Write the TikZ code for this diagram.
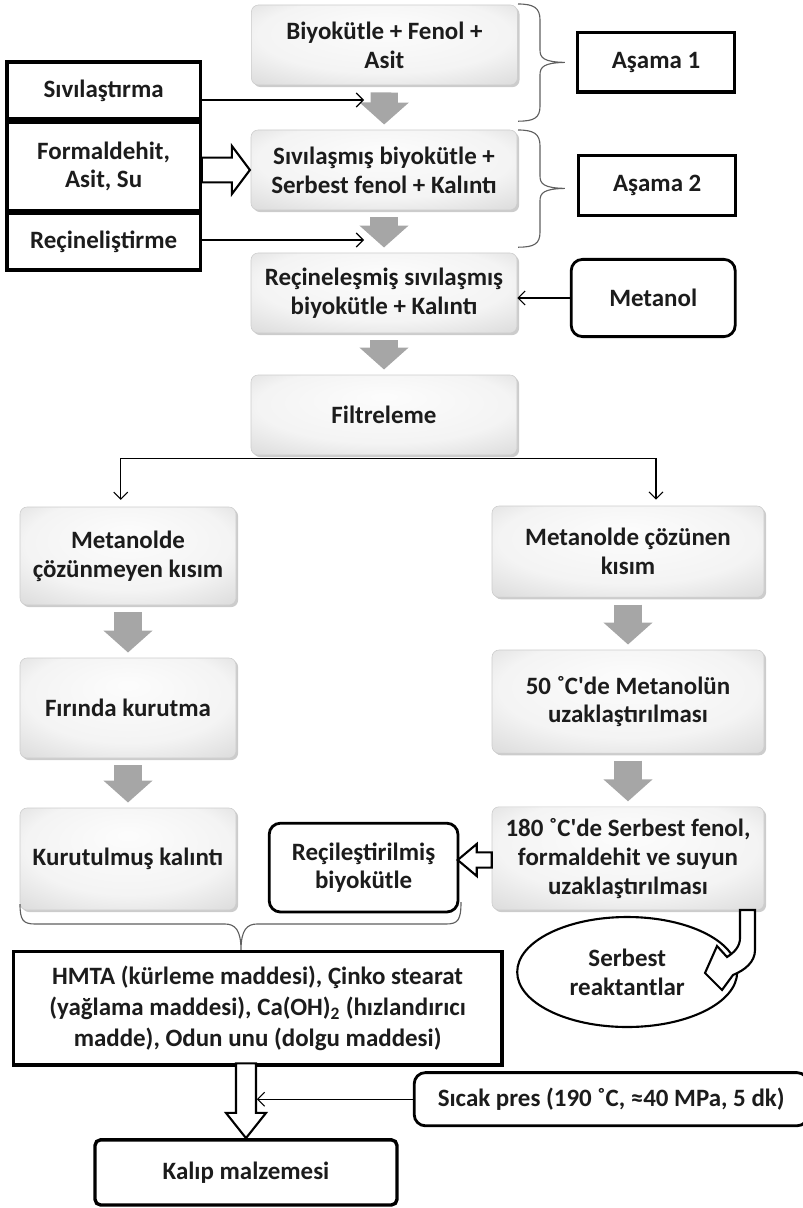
\documentclass[tikz,border=0pt]{standalone}
\usepackage{fontspec}
\setmainfont{Carlito}
\usetikzlibrary{arrows.meta, positioning, shadows, shapes.geometric}

\definecolor{flowgray}{RGB}{166,166,166}
\definecolor{bracegray}{RGB}{95,95,95}
\definecolor{inktext}{RGB}{28,28,28}

% soft glow for the process boxes, lighter towards the top
\pgfdeclareradialshading{boxglow}{\pgfpoint{0bp}{12bp}}{color(0bp)=(gray!2); color(24bp)=(gray!9); color(50bp)=(gray!45)}

\tikzset{
  stepbox/.style={rectangle, rounded corners=5pt, draw=gray!40, shading=boxglow,
    align=center, minimum width=6.65cm, minimum height=2cm,
    drop shadow={opacity=0.4, shadow xshift=1.5pt, shadow yshift=-1.5pt}},
  inbox/.style={rectangle, draw, line width=2.4pt, align=center, fill=white},
  roundbox/.style={inbox, rounded corners=8pt, line width=2pt},
  arrow/.style={-{Straight Barb[length=5pt, width=10pt]}, line width=0.8pt},
  flow/.style={line width=0.68cm, flowgray, -{Triangle[width=1.2cm, length=0.55cm]},
    shorten <=0.18cm, shorten >=0.13cm},
  hollow/.style={draw, line width=1.5pt, fill=white, line join=miter},
  stagebrace/.style={bracegray, line width=0.8pt},
}

\begin{document}
\begin{tikzpicture}[font=\fontsize{17.75}{20.5}\selectfont\bfseries, text=inktext]
  \useasboundingbox (0,0) rectangle (20.075,-30.2);

  %% upper chain
  \node[stepbox] (bio) at (9.61,-1.125) {Biyokütle + Fenol +\\Asit};
  \node[stepbox] (sivi) at (9.6,-4.25) {Sıvılaşmış biyokütle +\\Serbest fenol + Kalıntı};
  \node[stepbox] (recsivi) at (9.6,-7.325) {Reçineleşmiş sıvılaşmış\\biyokütle + Kalıntı};
  \node[stepbox] (filtre) at (9.6,-10.375) {Filtreleme};

  \draw[flow] (bio) -- (sivi);
  \draw[flow] (sivi) -- (recsivi);
  \draw[flow] (recsivi) -- (filtre);

  %% inputs on the left
  \node[inbox, minimum width=4.83cm, minimum height=1.42cm] (siv) at (2.59,-2.26) {Sıvılaştırma};
  \node[inbox, minimum width=4.83cm, minimum height=2.22cm] (form) at (2.59,-4.16) {Formaldehit,\\Asit, Su};
  \node[inbox, minimum width=4.83cm, minimum height=1.42cm] (recin) at (2.59,-6.04) {Reçineliştirme};

  \coordinate (in1) at (9.1,-2.5);
  \coordinate (in2) at (9.1,-6.0);
  \draw[arrow] (siv.east |- in1) -- (in1);
  \draw[arrow] (recin.east |- in2) -- (in2);
  \draw[hollow, shift={(form.east)}]
    (0,0.22) -- (0.75,0.22) -- (0.75,0.51) -- (1.2,-0.09) -- (0.75,-0.69)
    -- (0.75,-0.40) -- (0,-0.40) -- cycle;

  %% stages: brackets and labels
  \foreach \dy in {0,-3.15}
    \draw[stagebrace, shift={(0,\dy)}]
      (12.95,-0.1) .. controls (13.35,-0.1) and (13.5,-0.2) .. (13.5,-0.5) -- (13.5,-1.25)
      .. controls (13.5,-1.45) and (13.6,-1.55) .. (14.12,-1.56)
      .. controls (13.6,-1.57) and (13.5,-1.67) .. (13.5,-1.87) -- (13.5,-2.65)
      .. controls (13.5,-2.95) and (13.35,-3.03) .. (12.95,-3.03);
  \node[inbox, minimum width=3.93cm, minimum height=1.48cm] (asama1) at (16.4,-1.56) {Aşama 1};
  \node[inbox, minimum width=3.93cm, minimum height=1.5cm] (asama2) at (16.43,-4.64) {Aşama 2};

  \node[roundbox, minimum width=4.1cm, minimum height=1.93cm] (metanol) at (16.33,-7.45) {Metanol};
  \draw[arrow] (metanol.west) -- (recsivi.east |- metanol.west);

  %% split after filtering
  \node[stepbox, minimum width=5.4cm, minimum height=2.45cm] (cozmez) at (3.2,-13.9) {Metanolde\\çözünmeyen kısım};
  \node[stepbox, minimum width=6.8cm, minimum height=2.28cm] (cozen) at (15.7,-13.79) {Metanolde çözünen\\kısım};
  \draw[arrow] ([yshift=-2pt]filtre.south) -| ([xshift=-0.18cm, yshift=0.17cm]cozmez.north);
  \draw[arrow] ([yshift=-2pt]filtre.south) -| ([xshift=0.7cm, yshift=0.15cm]cozen.north);

  %% left column
  \node[stepbox, minimum width=5.4cm, minimum height=2.5cm] (firin) at (3.2,-17.7) {Fırında kurutma};
  \node[stepbox, minimum width=5.4cm, minimum height=2.55cm] (kuru) at (3.2,-21.475) {Kurutulmuş kalıntı};
  \draw[flow] (cozmez) -- (firin);
  \draw[flow] (firin) -- (kuru);

  %% right column
  \node[stepbox, minimum width=6.8cm, minimum height=2.58cm] (metuz) at (15.7,-17.54) {50 ˚C\textquotesingle de Metanolün\\uzaklaştırılması};
  \node[stepbox, minimum width=6.8cm, minimum height=2.58cm] (fenuz) at (15.7,-21.46) {180 ˚C\textquotesingle de Serbest fenol,\\formaldehit ve suyun\\uzaklaştırılması};
  \draw[flow] (cozen) -- (metuz);
  \draw[flow] (metuz) -- (fenuz);

  \node[roundbox, minimum width=4.72cm, minimum height=2.22cm] (recbio) at (9.09,-21.69) {Reçileştirilmiş\\biyokütle};
  \draw[hollow, shift={(fenuz.west)}]
    (0,0.15) -- (-0.375,0.15) -- (-0.375,0.36) -- (-0.85,-0.04) -- (-0.375,-0.44)
    -- (-0.375,-0.23) -- (0,-0.23) -- cycle;

  \node[ellipse, draw, line width=1.5pt, minimum width=5.5cm, minimum height=2.75cm,
        align=center] (serbest) at (15.68,-24.3) {Serbest\\reaktantlar};
  \draw[hollow]
    (18.5,-22.75) -- (18.875,-22.75) -- (18.875,-23.75)
    .. controls (18.875,-24.05) and (18.625,-24.25) .. (18.325,-24.375)
    -- (18.05,-24.75) -- (17.625,-24.325) -- (17.925,-23.65) -- (18.175,-23.925)
    .. controls (18.375,-23.8) and (18.5,-23.65) .. (18.5,-23.45) -- cycle;

  %% moulding mix
  \draw[stagebrace]
    (0.5,-22.6) .. controls (0.5,-23.0) and (0.575,-23.1) .. (0.875,-23.1) -- (5.625,-23.1)
    .. controls (5.875,-23.1) and (6.025,-23.25) .. (6.025,-23.75)
    .. controls (6.025,-23.25) and (6.175,-23.1) .. (6.425,-23.1) -- (11.15,-23.1)
    .. controls (11.45,-23.1) and (11.525,-23.0) .. (11.525,-22.55);
  \node[inbox, minimum width=12.22cm, minimum height=2.83cm,
        font=\fontsize{17.75}{22}\selectfont\bfseries] (hmta) at (6.44,-25.21)
    {HMTA (kürleme maddesi), Çinko stearat\\(yağlama maddesi), Ca(OH)\textsubscript{2} (hızlandırıcı\\madde), Odun unu (dolgu maddesi)};

  \node[inbox, rounded corners=4pt, minimum width=7.55cm, minimum height=1.63cm] (kalip) at (6.15,-29.31) {Kalıp malzemesi};
  \draw[hollow, shift={(kalip.north)}]
    (-0.25,1.87) -- (0.25,1.87) -- (0.25,0.63) -- (0.5,0.63) -- (0,0)
    -- (-0.5,0.63) -- (-0.25,0.63) -- cycle;

  \node[roundbox, minimum width=9.85cm, minimum height=1.33cm] (pres) at (15.28,-27.48) {Sıcak pres (190 ˚C, ≈40 MPa, 5 dk)};
  \coordinate (hit) at (6.42,-27.5);
  \draw[arrow] (pres.west) -- (pres.west -| hit);

\end{tikzpicture}
\end{document}
